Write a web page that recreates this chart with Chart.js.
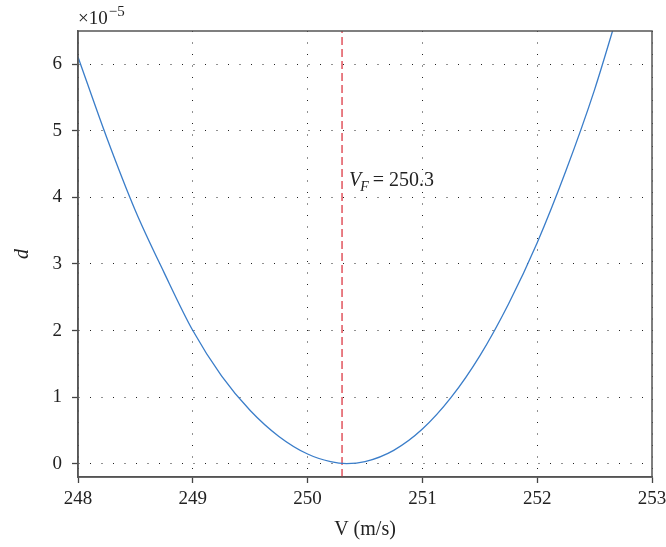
<!DOCTYPE html>
<html>
<head>
<meta charset="utf-8">
<script src="https://cdn.jsdelivr.net/npm/chart.js@4.4.0/dist/chart.umd.min.js"></script>
<style>
  html, body { margin: 0; padding: 0; background: #fff; }
  #wrap { width: 666px; height: 547px; }
</style>
</head>
<body>
<div id="wrap"><canvas id="myChart"></canvas></div>
<script>
// speed V (m/s) and d in units of 1e-5
const speed = [248.0, 248.25, 248.5, 248.75, 249.0, 249.25, 249.5, 249.75, 250.0, 250.2, 250.34, 250.5, 250.75, 251.0, 251.25, 251.5, 251.75, 252.0, 252.25, 252.5, 252.7];
const dist = [6.11, 4.9, 3.8, 2.87, 2.0, 1.32, 0.8, 0.41, 0.145, 0.03, 0, 0.03, 0.2, 0.52, 0.995, 1.62, 2.4, 3.32, 4.4, 5.62, 6.75];

// flutter speed marker
const vfSpeed = [250.3, 250.3];
const vfRange = [-0.2, 6.5];

const xTicks = [248, 249, 250, 251, 252, 253];
const yTicks = [0, 1, 2, 3, 4, 5, 6];

const serif = 'Liberation Serif';

// box around the plot (top and right sides too)
const frame = {
  id: 'frame',
  afterDraw(chart) {
    const a = chart.chartArea;
    const c = chart.ctx;
    c.save();
    c.strokeStyle = '#555';
    c.lineWidth = 1.5;
    c.strokeRect(a.left, a.top, a.right - a.left, a.bottom - a.top);
    c.restore();
  }
};

// exponent label and V_F annotation
const texts = {
  id: 'texts',
  afterDraw(chart) {
    const c = chart.ctx;
    const xs = chart.scales.x, ys = chart.scales.y;
    c.save();
    c.fillStyle = '#222';
    c.textBaseline = 'alphabetic';

    let x = chart.chartArea.left;
    c.font = '19px ' + serif;
    c.fillText('\u00d710', x, 24);
    x += c.measureText('\u00d710').width + 1;
    c.font = '15px ' + serif;
    c.fillText('\u22125', x, 16);

    x = xs.getPixelForValue(vfSpeed[0]) + 7;
    const y = ys.getPixelForValue(4.17);
    c.font = 'italic 20px ' + serif;
    c.fillText('V', x, y);
    x += c.measureText('V').width - 1;
    c.font = 'italic 14px ' + serif;
    c.fillText('F', x, y + 5);
    x += c.measureText('F').width + 4;
    c.font = '20px ' + serif;
    c.fillText('= 250.3', x, y);
    c.restore();
  }
};

let ctx = document.getElementById('myChart').getContext('2d');
let myChart = new Chart(ctx, {
  type: 'line',
  data: {
    datasets: [{
      data: speed.map((v, i) => ({ x: v, y: dist[i] })),
      borderColor: '#3a7dc9',
      borderWidth: 1.3,
      pointRadius: 0,
      cubicInterpolationMode: 'monotone',
      fill: false
    }, {
      data: vfSpeed.map((v, i) => ({ x: v, y: vfRange[i] })),
      borderColor: '#dc3a45',
      borderWidth: 1.3,
      borderDash: [8, 4],
      pointRadius: 0,
      fill: false
    }]
  },
  options: {
    responsive: true,
    maintainAspectRatio: false,
    animation: false,
    layout: { padding: { left: 0, top: 31, right: 14, bottom: 0 } },
    plugins: {
      legend: { display: false },
      tooltip: { enabled: false }
    },
    scales: {
      x: {
        type: 'linear',
        min: 248,
        max: 253,
        afterFit: s => { s.height = 70; s.paddingLeft = 0; s.paddingRight = 0; },
        afterBuildTicks: s => { s.ticks = xTicks.map(v => ({ value: v })); },
        ticks: { font: { family: serif, size: 19 }, color: '#222', padding: 5, maxRotation: 0 },
        grid: { color: '#222', lineWidth: 1, tickLength: 6, tickColor: '#444', tickWidth: 1.3 },
        border: { color: '#555', width: 1.5, dash: [1, 10.5] },
        title: {
          display: true,
          text: 'V (m/s)',
          font: { family: serif, size: 20 },
          color: '#222',
          padding: { top: 0, bottom: 5 }
        }
      },
      y: {
        type: 'linear',
        min: -0.2,
        max: 6.5,
        afterFit: s => { s.width = 78; s.paddingTop = 0; s.paddingBottom = 0; },
        afterBuildTicks: s => { s.ticks = yTicks.map(v => ({ value: v })); },
        ticks: { font: { family: serif, size: 19 }, color: '#222', padding: 10 },
        grid: { color: '#222', lineWidth: 1, tickLength: 6, tickColor: '#444', tickWidth: 1.3 },
        border: { color: '#555', width: 1.5, dash: [1, 10.5] },
        title: {
          display: true,
          text: 'd',
          font: { family: serif, size: 20, style: 'italic' },
          color: '#222',
          padding: { top: 11, bottom: 0 }
        }
      }
    }
  },
  plugins: [frame, texts]
});
</script>
</body>
</html>
